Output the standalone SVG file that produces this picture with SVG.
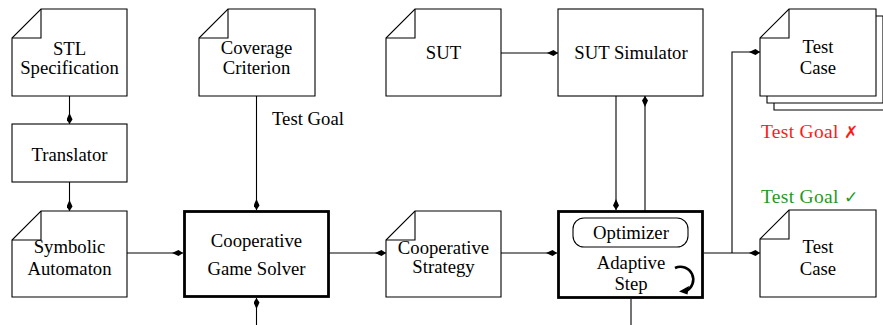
<svg xmlns="http://www.w3.org/2000/svg" width="883" height="325" viewBox="0 0 883 325">
<defs>
<marker id="ah" viewBox="0 0 11 6" refX="11" refY="3" markerWidth="11" markerHeight="6" markerUnits="userSpaceOnUse" orient="auto">
<path d="M0,3 L6.5,0 L11,3 L6.5,6 Z" fill="#000"/>
</marker>
</defs>
<style>
.n{fill:#fff;stroke:#000;stroke-width:1.1}
.f{fill:none;stroke:#000;stroke-width:1.1}
.k{fill:#fff;stroke:#000;stroke-width:2.8}
.t{font-family:"Liberation Serif","Times New Roman",serif;font-size:18.7px;fill:#000;text-anchor:middle}
.l{font-family:"Liberation Serif","Times New Roman",serif;font-size:18.7px;fill:#000}
.c{fill:none;stroke:#000;stroke-width:1.1}
.a{marker-end:url(#ah)}
</style>
<g id="connectors">
<path class="c a" d="M69.5,96 V124"/>
<path class="c a" d="M69.5,182 V211"/>
<path class="c a" d="M127,253 H183"/>
<path class="c a" d="M256.5,96 V210"/>
<path class="c a" d="M256.5,325 V298"/>
<path class="c a" d="M329,253 H386"/>
<path class="c a" d="M501,253 H557"/>
<path class="c a" d="M501,53 H558"/>
<path class="c a" d="M616,96 V210"/>
<path class="c a" d="M645,218 V96"/>
<path class="c" d="M631,299 V325"/>
<path class="c a" d="M704,253 H760"/>
<path class="c a" d="M732,253 V52 H760"/>
</g>
<g id="stl">
<path class="n" d="M41,9 H127 V96 H12 V38 Z"/>
<path class="f" d="M41,9 V38 H12"/>
<text class="t" x="69.5" y="55">STL</text>
<text class="t" x="69.5" y="74">Specification</text>
</g>
<g id="coverage">
<path class="n" d="M228,9 H315 V96 H199 V38 Z"/>
<path class="f" d="M228,9 V38 H199"/>
<text class="t" x="256.5" y="54">Coverage</text>
<text class="t" x="256.5" y="74">Criterion</text>
</g>
<text class="l" x="272" y="125">Test Goal</text>
<g id="translator">
<rect class="n" x="12" y="124" width="115" height="58"/>
<text class="t" x="69.5" y="161">Translator</text>
</g>
<g id="symbolic">
<path class="n" d="M41,211 H127 V297 H12 V240 Z"/>
<path class="f" d="M41,211 V240 H12"/>
<text class="t" x="69.5" y="253">Symbolic</text>
<text class="t" x="69.5" y="275">Automaton</text>
</g>
<g id="solver">
<rect class="k" x="184.5" y="211.5" width="144" height="85"/>
<text class="t" x="256.5" y="247">Cooperative</text>
<text class="t" x="256.5" y="275">Game Solver</text>
</g>
<g id="strategy">
<path class="n" d="M415,211 H501 V297 H386 V240 Z"/>
<path class="f" d="M415,211 V240 H386"/>
<text class="t" x="443.5" y="254">Cooperative</text>
<text class="t" x="443.5" y="273">Strategy</text>
</g>
<g id="sut">
<path class="n" d="M415,9 H501 V96 H386 V38 Z"/>
<path class="f" d="M415,9 V38 H386"/>
<text class="t" x="443.5" y="59">SUT</text>
</g>
<g id="simulator">
<rect class="n" x="558" y="9" width="145" height="87"/>
<text class="t" x="631" y="59">SUT Simulator</text>
</g>
<g id="adaptive">
<rect class="k" x="558.5" y="211.5" width="144" height="86"/>
<rect class="n" x="573" y="218" width="115" height="29" rx="11" ry="11"/>
<text class="t" x="631" y="239">Optimizer</text>
<text class="t" x="631" y="269">Adaptive</text>
<text class="t" x="631" y="290">Step</text>
<path d="M675,268 A12.5,12.5 0 1 1 686,291" fill="none" stroke="#000" stroke-width="2.6"/>
<path d="M679,291.5 L689,286 L687.5,294.5 Z" fill="#000"/>
</g>
<g id="testcase-fail">
<path class="n" d="M803,23 H890 V110 H774 V52 Z"/>
<path class="n" d="M796,16 H883 V103 H767 V45 Z"/>
<path class="n" d="M789,9 H876 V96 H760 V38 Z"/>
<path class="f" d="M789,9 V38 H760"/>
<text class="t" x="818" y="53">Test</text>
<text class="t" x="818" y="74">Case</text>
</g>
<text x="761" y="138" font-family="Liberation Serif, serif" font-size="19.5" letter-spacing="0.3" fill="#ff1a1a">Test Goal <tspan font-family="DejaVu Sans, sans-serif" font-weight="bold" font-size="17">✗</tspan></text>
<text x="761" y="203" font-family="Liberation Serif, serif" font-size="19.5" letter-spacing="0.3" fill="#1f9a1f">Test Goal <tspan font-family="DejaVu Sans, sans-serif" font-size="17">✓</tspan></text>
<g id="testcase-pass">
<path class="n" d="M789,210 H876 V297 H760 V239 Z"/>
<path class="f" d="M789,210 V239 H760"/>
<text class="t" x="818" y="253">Test</text>
<text class="t" x="818" y="275">Case</text>
</g>
</svg>
